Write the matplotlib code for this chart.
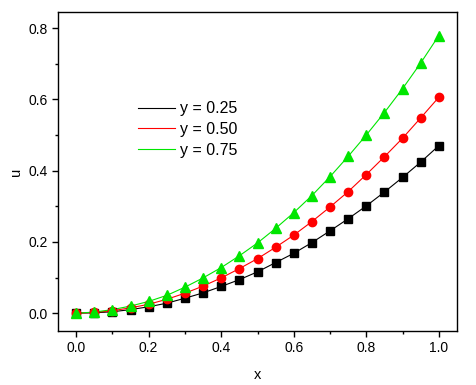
import matplotlib.pyplot as plt
from matplotlib.ticker import MultipleLocator

plt.rcParams['font.family'] = ['Liberation Sans', 'DejaVu Sans']

x = [0.0, 0.05, 0.10, 0.15, 0.20, 0.25, 0.30, 0.35, 0.40, 0.45, 0.50,
     0.55, 0.60, 0.65, 0.70, 0.75, 0.80, 0.85, 0.90, 0.95, 1.00]
u_025 = [0.0, 0.001, 0.004, 0.010, 0.018, 0.028, 0.042, 0.057, 0.075, 0.094, 0.116,
         0.142, 0.168, 0.198, 0.231, 0.265, 0.301, 0.340, 0.381, 0.424, 0.470]
u_050 = [0.0, 0.002, 0.007, 0.015, 0.025, 0.039, 0.056, 0.076, 0.099, 0.125, 0.153,
         0.185, 0.219, 0.257, 0.298, 0.341, 0.389, 0.439, 0.491, 0.548, 0.606]
u_075 = [0.0, 0.003, 0.010, 0.020, 0.033, 0.050, 0.073, 0.099, 0.128, 0.161, 0.197,
         0.238, 0.282, 0.330, 0.383, 0.440, 0.500, 0.563, 0.630, 0.702, 0.779]
labels = ["y = 0.25", "y = 0.50", "y = 0.75"]

green = '#00e600'

fig = plt.figure(figsize=(4.77, 3.85), dpi=100)
ax = fig.add_axes([58/477, 1 - 331/385, 399/477, 319/385])

ax.plot(x, u_025, color='black', lw=0.8, label=labels[0])
ax.plot(x, u_050, color='red', lw=0.8, label=labels[1])
ax.plot(x, u_075, color=green, lw=0.8, label=labels[2])
ax.plot(x, u_025, 's', color='black', ms=5.5, ls='none')
ax.plot(x, u_050, 'o', color='red', ms=6, ls='none')
ax.plot(x, u_075, '^', color=green, ms=7, ls='none')

ax.set_xlim(-0.05, 1.05)
ax.set_ylim(-0.05, 0.845)
ax.xaxis.set_major_locator(MultipleLocator(0.2))
ax.xaxis.set_minor_locator(MultipleLocator(0.1))
ax.yaxis.set_major_locator(MultipleLocator(0.2))
ax.yaxis.set_minor_locator(MultipleLocator(0.1))
ax.tick_params(which='both', direction='out', labelsize=10, width=1, top=False, right=False)
ax.tick_params(which='major', length=4)
ax.tick_params(which='minor', length=2.5)
for s in ax.spines.values():
    s.set_linewidth(1)

ax.set_xlabel("x", fontsize=10.5, labelpad=9)
ax.set_ylabel("u", fontsize=10.5, labelpad=4)

ax.legend(loc='upper left', bbox_to_anchor=(0.2, 0.72), frameon=False,
          fontsize=11.5, handlelength=2.3, handletextpad=0.35, labelspacing=0.35,
          borderpad=0, borderaxespad=0)

plt.savefig("out.png", dpi=100)
